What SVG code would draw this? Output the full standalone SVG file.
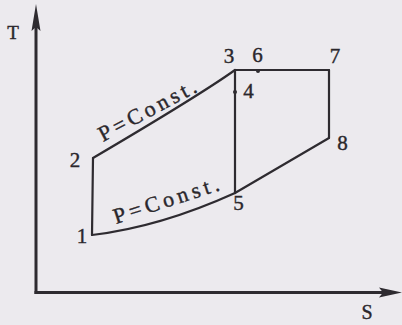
<svg xmlns="http://www.w3.org/2000/svg" width="402" height="325" viewBox="0 0 402 325">
<style>
.ln{fill:none;stroke:#2e2b30;stroke-width:2.2;stroke-linejoin:round;stroke-linecap:round}
.ax{fill:none;stroke:#2e2b30;stroke-width:3}
.lbl{font-family:"Liberation Serif","DejaVu Serif",serif;font-size:21px;fill:#2a272c;stroke:#2a272c;stroke-width:0.4;text-anchor:middle}
.pc{font-family:"Liberation Serif","DejaVu Serif",serif;font-size:22px;fill:#2a272c;stroke:#2a272c;stroke-width:0.4}
.dot{fill:#2e2b30}
.ah{fill:#2e2b30}
</style>
<rect x="0" y="0" width="402" height="325" fill="#eceaee"/>
<g id="axes">
<line class="ax" x1="36" y1="294" x2="36" y2="24"/>
<polygon class="ah" points="36,4 31.5,31 36,27 40.5,31"/>
<line class="ax" x1="34.5" y1="292.5" x2="386" y2="292.5"/>
<polygon class="ah" points="402,292.5 379,287.5 383,292.5 379,297.5"/>
<text class="lbl" x="13" y="39" style="font-size:19px">T</text>
<text class="lbl" x="367" y="319" style="font-size:20px">S</text>
</g>
<g id="connectors">
<path class="ln" d="M92,235 L93,158"/>
<path class="ln" d="M93,158 Q200,95 235,70"/>
<path class="ln" d="M235,70 L329,70"/>
<path class="ln" d="M329,70 L329,138"/>
<path class="ln" d="M329,138 L235,193"/>
<path class="ln" d="M235,193 Q160,227 92,235"/>
<path class="ln" d="M235,70 L235,193"/>
<text class="pc" x="103" y="142" transform="rotate(-28 103 142)" textLength="108" lengthAdjust="spacing">P=Const.</text>
<text class="pc" x="116" y="224" transform="rotate(-18 116 224)" textLength="110" lengthAdjust="spacing">P=Const.</text>
</g>
<g id="p1"><text class="lbl" x="82" y="243">1</text></g>
<g id="p2"><text class="lbl" x="75" y="167">2</text></g>
<g id="p3"><text class="lbl" x="229" y="63">3</text></g>
<g id="p4"><circle class="dot" cx="235" cy="92" r="2"/><text class="lbl" x="248.5" y="98">4</text></g>
<g id="p5"><text class="lbl" x="238.5" y="210">5</text></g>
<g id="p6"><circle class="dot" cx="258" cy="71" r="2"/><text class="lbl" x="257.5" y="62">6</text></g>
<g id="p7"><text class="lbl" x="335" y="63">7</text></g>
<g id="p8"><text class="lbl" x="342.5" y="150">8</text></g>
</svg>
